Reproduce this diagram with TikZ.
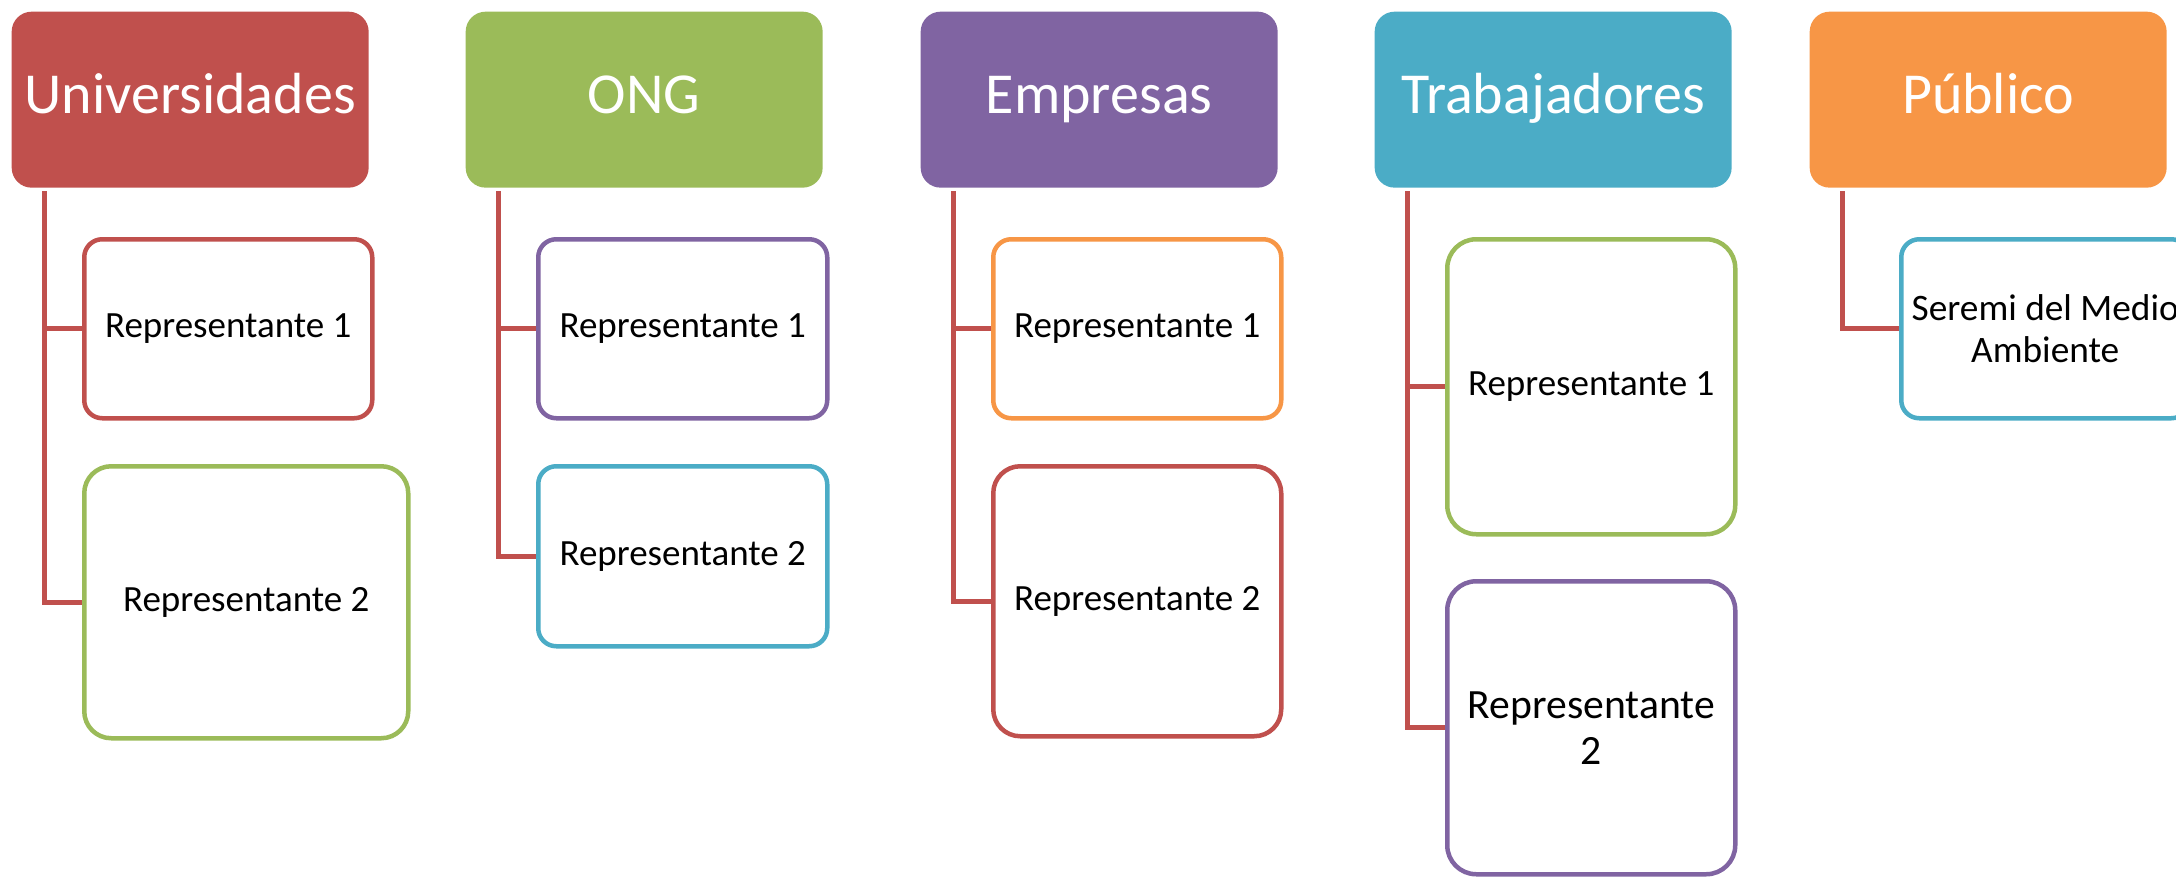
\documentclass[tikz,border=0pt]{standalone}
\usepackage{fontspec}
\setmainfont{Carlito}
\usepackage{xcolor}
\definecolor{accred}{HTML}{C0504D}
\definecolor{accgreen}{HTML}{9BBB59}
\definecolor{accpurple}{HTML}{8064A2}
\definecolor{accaqua}{HTML}{4BACC6}
\definecolor{accorange}{HTML}{F79646}
\newdimen\px
\px=0.3pt
\tikzset{
  hdr/.style={
    fill=#1, text=white, rounded corners=20\px, anchor=north west,
    minimum width=357\px, minimum height=176\px, inner sep=0pt,
    text height=1.05em, text depth=0.25em,
    font=\fontsize{17.4}{20}\selectfont},
  rep/.style={
    draw=#1, fill=white, line width=4.5\px, rounded corners=18\px,
    anchor=north west, minimum width=288\px, minimum height=179\px,
    inner sep=0pt, align=center, font=\fontsize{11.1}{12.6}\selectfont},
  link/.style={draw=accred, line width=5\px}
}

\begin{document}
\begin{tikzpicture}[x=\px,y=-\px]
    \useasboundingbox (0,0) rectangle (2176,877);
    % groups
    \node[hdr=accred] (uni) at (11,11) {Universidades};
    \node[hdr=accgreen] (ong) at (465,11) {ONG};
    \node[hdr=accpurple] (emp) at (920,11) {Empresas};
    \node[hdr=accaqua] (tra) at (1374,11) {Trabajadores};
    \node[hdr=accorange] (pub) at (1809,11) {Público};
    % representantes
    \node[rep=accred] (uniA) at (82,237) {Representante 1};
    \node[rep=accgreen,minimum width=324\px,minimum height=272\px,rounded corners=27\px] (uniB) at (82,464) {Representante 2};
    \node[rep=accpurple,minimum width=289\px] (ongA) at (536,237) {Representante 1};
    \node[rep=accaqua,minimum width=289\px,minimum height=180\px] (ongB) at (536,464) {Representante 2};
    \node[rep=accorange] (empA) at (991,237) {Representante 1};
    \node[rep=accred,minimum height=270\px,rounded corners=27\px] (empB) at (991,464) {Representante 2};
    \node[rep=accgreen,minimum height=295\px,rounded corners=29\px] (traA) at (1445,237) {Representante 1};
    \node[rep=accpurple,minimum height=293\px,rounded corners=29\px,
          font=\fontsize{12.5}{13.8}\selectfont] (traB) at (1445,579) {Representante\\2};
    \node[rep=accaqua,font=\fontsize{11.2}{12.6}\selectfont] (pubA) at (1899,237) {Seremi del Medio\\Ambiente};
    % connectors
    \foreach \hd/\kid in {uni/uniA,uni/uniB,ong/ongA,ong/ongB,emp/empA,emp/empB,tra/traA,tra/traB,pub/pubA}
        \draw[link] ([xshift=33\px,yshift=-3\px]\hd.south west) |- (\kid.west);
\end{tikzpicture}
\end{document}
